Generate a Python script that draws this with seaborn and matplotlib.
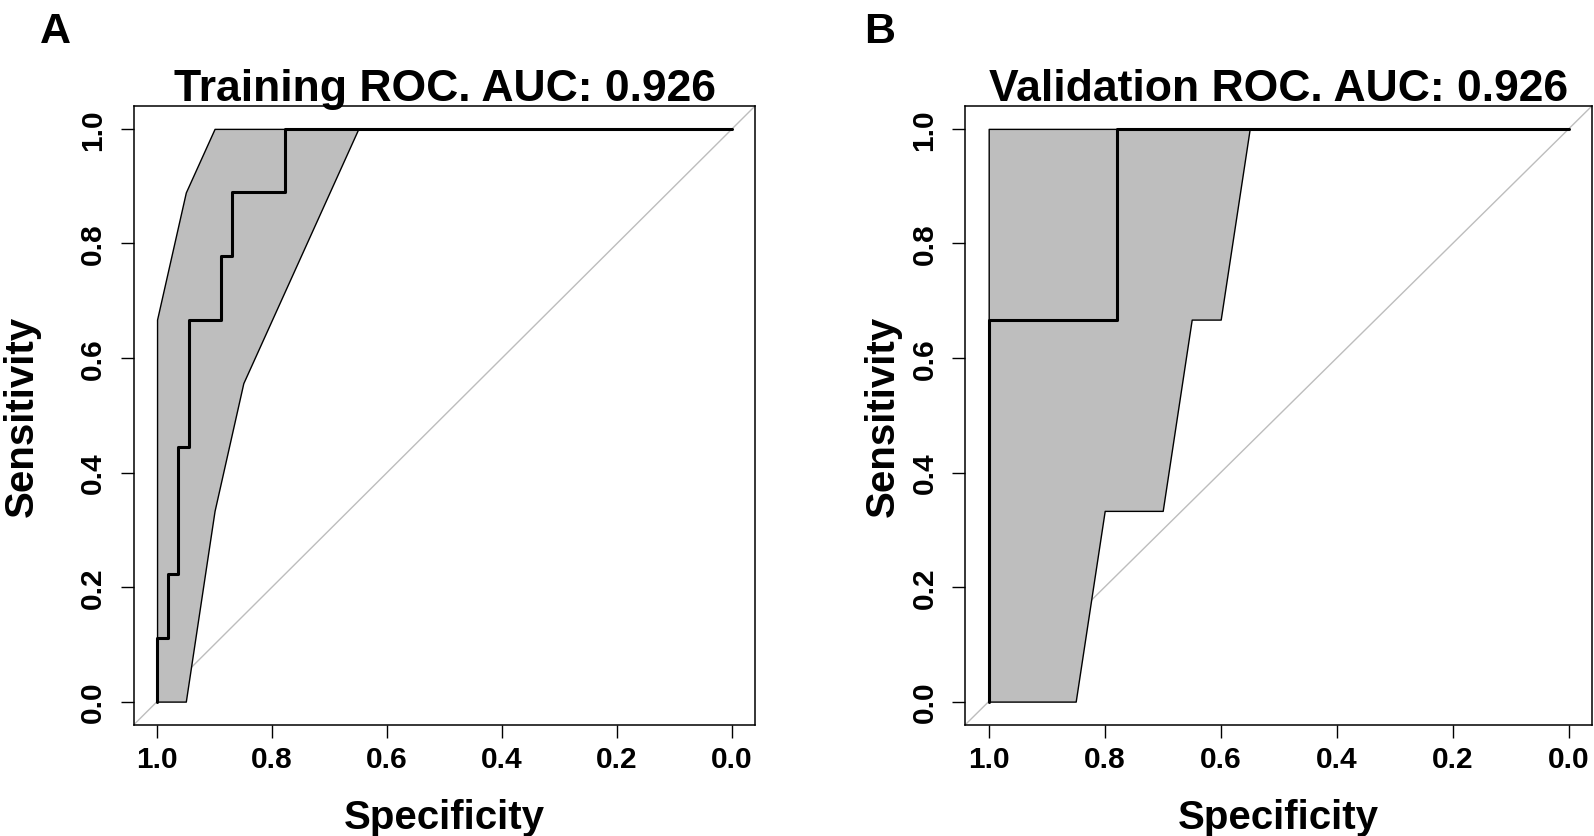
# ROC curves with confidence bands: training vs validation

import numpy as np
import seaborn as sns
import matplotlib.pyplot as plt

# -------------------------------
# Data
# -------------------------------
# training ROC curve (step vertices)
train_spec = [1.0, 1.0, 0.981, 0.981, 0.963, 0.963, 0.944, 0.944, 0.889, 0.889,
              0.870, 0.870, 0.778, 0.778, 0.0]
train_sens = [0.0, 0.111, 0.111, 0.222, 0.222, 0.444, 0.444, 0.667, 0.667, 0.778,
              0.778, 0.889, 0.889, 1.0, 1.0]

# training sensitivity CI band
train_ci_spec = [1.0, 0.95, 0.90, 0.85, 0.80, 0.75, 0.70, 0.65]
train_ci_low = [0.0, 0.0, 0.333, 0.556, 0.667, 0.778, 0.889, 1.0]
train_ci_high = [0.667, 0.889, 1.0, 1.0, 1.0, 1.0, 1.0, 1.0]

# validation ROC curve
valid_spec = [1.0, 1.0, 0.778, 0.778, 0.0]
valid_sens = [0.0, 0.667, 0.667, 1.0, 1.0]

# validation sensitivity CI band
valid_ci_spec = [1.0, 0.95, 0.90, 0.85, 0.80, 0.75, 0.70, 0.65, 0.60, 0.55]
valid_ci_low = [0.0, 0.0, 0.0, 0.0, 0.333, 0.333, 0.333, 0.667, 0.667, 1.0]
valid_ci_high = [1.0, 1.0, 1.0, 1.0, 1.0, 1.0, 1.0, 1.0, 1.0, 1.0]

tick_vals = [0.0, 0.2, 0.4, 0.6, 0.8, 1.0]
titles = ["Training ROC. AUC: 0.926", "Validation ROC. AUC: 0.926"]
panel_letters = ["A", "B"]

# -------------------------------
# Style
# -------------------------------
sns.set_theme(style="white")
plt.rcParams['font.family'] = ['Liberation Sans', 'DejaVu Sans']
plt.rcParams['font.weight'] = 'bold'
plt.rcParams['text.color'] = 'black'
plt.rcParams['axes.labelcolor'] = 'black'
plt.rcParams['xtick.color'] = 'black'
plt.rcParams['ytick.color'] = 'black'

fig = plt.figure(figsize=(15.94, 8.37), dpi=100)

ax_a = fig.add_axes([0.0841, 0.1332, 0.3896, 0.7390])
ax_b = fig.add_axes([0.6057, 0.1332, 0.3930, 0.7390])

panels = [
    (ax_a, train_spec, train_sens, train_ci_spec, train_ci_low, train_ci_high),
    (ax_b, valid_spec, valid_sens, valid_ci_spec, valid_ci_low, valid_ci_high),
]

for i, (ax, spec, sens, ci_spec, ci_lo, ci_hi) in enumerate(panels):
    ax.set_xlim(1.04, -0.04)
    ax.set_ylim(-0.04, 1.04)

    # chance line
    ax.axline((1, 0), (0, 1), color="#BDBDBD", lw=1.0, zorder=1)

    # CI band
    ax.fill_between(ci_spec, ci_lo, ci_hi, facecolor="#BEBEBE",
                    edgecolor="black", lw=1.0, zorder=2)

    # ROC curve
    sns.lineplot(x=spec, y=sens, sort=False, estimator=None, ax=ax,
                 color="black", lw=2.2, zorder=3)

    ax.set_xticks(tick_vals)
    ax.set_yticks(tick_vals)
    ax.set_xticklabels([f"{v:.1f}" for v in tick_vals], fontsize=21.5, fontweight='bold')
    ax.set_yticklabels([f"{v:.1f}" for v in tick_vals], fontsize=21.5, fontweight='bold',
                       rotation=90, va='center')
    ax.tick_params(axis='both', direction='out', length=9.5, width=1.0,
                   color='black', bottom=True, left=True)
    ax.tick_params(axis='x', pad=5.5)
    ax.tick_params(axis='y', pad=10)

    for s in ax.spines.values():
        s.set_color('black')
        s.set_linewidth(1.1)

    ax.set_title(titles[i], fontsize=32, fontweight='bold', pad=4, color='black')
    ax.set_xlabel("")
    ax.set_ylabel("")

# axis labels and panel letters
fig.text(0.2789, 0.0096, "Specificity", fontsize=29, fontweight='bold',
         ha='center', va='baseline')
fig.text(0.8022, 0.0096, "Specificity", fontsize=29, fontweight='bold',
         ha='center', va='baseline')
fig.text(22 / 1594, 0.5027, "Sensitivity", fontsize=29, fontweight='bold',
         rotation=90, ha='center', va='center')
fig.text(883 / 1594, 0.5027, "Sensitivity", fontsize=29, fontweight='bold',
         rotation=90, ha='center', va='center')

fig.text(40 / 1594, 1 - 12 / 837, panel_letters[0], fontsize=31, fontweight='bold',
         ha='left', va='top')
fig.text(864 / 1594, 1 - 12 / 837, panel_letters[1], fontsize=31, fontweight='bold',
         ha='left', va='top')

plt.savefig("out.png", dpi=100)
